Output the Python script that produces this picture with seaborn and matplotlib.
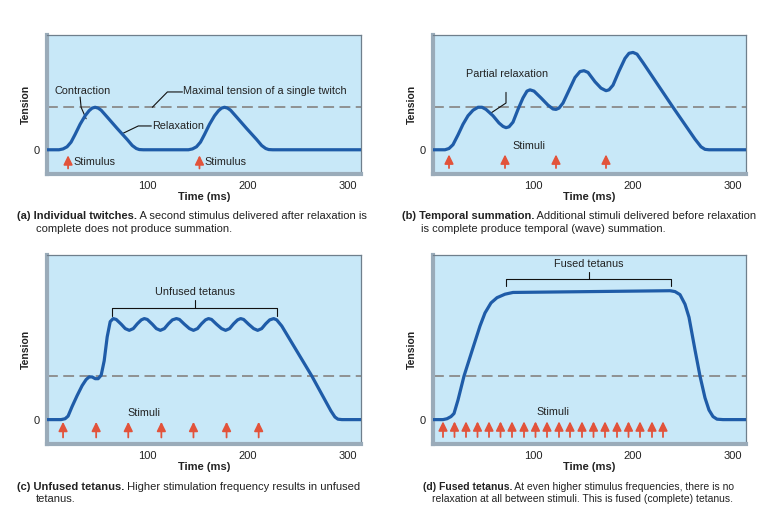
import matplotlib
matplotlib.use("Agg")
import matplotlib.pyplot as plt
import seaborn as sns

# tension curves: time (ms) and tension (1 = maximal single twitch)
a_time = [0, 12, 16, 20, 24, 28, 33, 38, 42, 45, 48, 51, 54, 60, 70, 80, 85, 89, 92, 96,
          141, 145, 149, 153, 157, 162, 167, 171, 174, 177, 180, 183, 189, 199, 209, 214, 218, 221, 225, 313]
a_tension = [0, 0, 0.02, 0.07, 0.18, 0.36, 0.6, 0.8, 0.92, 0.98, 1.0, 0.98, 0.93, 0.77, 0.5, 0.24, 0.1, 0.03, 0.005, 0,
             0, 0.02, 0.07, 0.18, 0.36, 0.6, 0.8, 0.92, 0.98, 1.0, 0.98, 0.93, 0.77, 0.5, 0.24, 0.1, 0.03, 0.005, 0, 0]

b_time = [0, 12, 16, 20, 25, 30, 35, 40, 45, 49, 53, 60, 66, 70, 73, 76, 80, 85, 90, 94, 97, 101,
          108, 115, 120, 123, 126, 130, 136, 142, 147, 151, 155, 162, 168, 173, 176, 180, 186, 192,
          196, 200, 204, 210, 240, 262, 268, 272, 276, 313]
b_tension = [0, 0, 0.03, 0.12, 0.35, 0.6, 0.8, 0.93, 1.0, 1.0, 0.95, 0.8, 0.63, 0.55, 0.52, 0.54, 0.65, 0.95, 1.22, 1.38, 1.41, 1.38,
             1.22, 1.05, 0.96, 0.95, 0.98, 1.1, 1.4, 1.7, 1.84, 1.86, 1.82, 1.6, 1.45, 1.39, 1.41, 1.52, 1.85, 2.15,
             2.27, 2.29, 2.25, 2.05, 1.0, 0.25, 0.07, 0.01, 0, 0]

c_time = [0, 14, 18, 21, 25, 30, 35, 39, 42, 45, 48, 51, 54, 57, 60, 63, 66,
          69, 74, 78, 82, 86, 90, 94, 97, 100, 105, 109, 113, 117, 121, 125, 129,
          132, 137, 142, 146, 150, 154, 158, 161, 164, 169, 174, 178, 182, 186, 190, 193,
          196, 201, 206, 210, 214, 218, 222, 226, 229, 234, 264, 283, 287, 290, 294, 313]
c_tension = [0, 0, 0.02, 0.08, 0.3, 0.55, 0.78, 0.92, 0.98, 0.98, 0.94, 0.94, 1.02, 1.35, 1.9, 2.25, 2.32,
             2.30, 2.19, 2.09, 2.05, 2.09, 2.20, 2.29, 2.32, 2.30, 2.19, 2.09, 2.05, 2.09, 2.20, 2.29, 2.32,
             2.30, 2.19, 2.09, 2.05, 2.09, 2.20, 2.29, 2.32, 2.30, 2.19, 2.09, 2.05, 2.09, 2.20, 2.29, 2.32,
             2.30, 2.19, 2.09, 2.05, 2.09, 2.20, 2.29, 2.32, 2.29, 2.15, 1.0, 0.2, 0.06, 0.01, 0, 0]

d_time = [0, 10, 14, 18, 21, 25, 31, 40, 47, 52, 58, 64, 72, 80, 237, 242, 247, 252, 256,
          262, 267, 272, 276, 280, 284, 290, 313]
d_tension = [0, 0, 0.02, 0.07, 0.14, 0.45, 1.0, 1.65, 2.15, 2.45, 2.68, 2.8, 2.88, 2.92, 2.96, 2.94, 2.87, 2.65, 2.35,
             1.6, 1.0, 0.5, 0.22, 0.07, 0.01, 0, 0]

# stimulus times (ms)
stim_a = [21, 152]
stim_b = [16, 72, 123, 173]
stim_c = [16, 49, 81, 114, 146, 179, 211]
stim_d = [10, 21.5, 33, 44.5, 56, 67.5, 79, 91, 102.5, 114, 126, 137, 149, 160.5,
          172, 184, 195.5, 207, 219, 230]

max_twitch = 1.0
time_ticks = [100, 200, 300]

captions = [
    ("(a) Individual twitches.", " A second stimulus delivered after relaxation is",
     "complete does not produce summation."),
    ("(b) Temporal summation.", " Additional stimuli delivered before relaxation",
     "is complete produce temporal (wave) summation."),
    ("(c) Unfused tetanus.", " Higher stimulation frequency results in unfused",
     "tetanus."),
    ("(d) Fused tetanus.", " At even higher stimulus frequencies, there is no",
     "relaxation at all between stimuli. This is fused (complete) tetanus."),
]

sns.set_theme(style="white")
plt.rcParams["font.family"] = ["Liberation Sans", "DejaVu Sans"]

W, H = 771, 512
fig = plt.figure(figsize=(W / 100, H / 100), dpi=100)

BG = "#c8e8f8"
LINE = "#1f5ca8"
ARROW = "#e2533b"
TXT = "#222222"


def px_axes(left, top, right, bottom):
    return fig.add_axes([left / W, 1 - bottom / H, (right - left) / W, (bottom - top) / H])


def setup(ax, ylim, stims, arrow_lo, arrow_hi):
    ax.set_facecolor(BG)
    ax.set_xlim(0, 313)
    ax.set_ylim(*ylim)
    ax.axhline(max_twitch, color="#8a8a8a", lw=1.3, ls=(0, (6, 3)), zorder=1)
    for s in stims:
        ax.annotate("", xy=(s, arrow_hi), xytext=(s, arrow_lo),
                    arrowprops=dict(arrowstyle="-|>,head_width=0.22,head_length=0.45",
                                    color=ARROW, lw=1.3, shrinkA=0, shrinkB=0))
    ax.set_xticks(time_ticks)
    ax.set_xticklabels([str(t) for t in time_ticks], fontsize=8, color=TXT)
    ax.set_yticks([0])
    ax.set_yticklabels(["0"], fontsize=8, color=TXT)
    ax.tick_params(length=0, pad=5)
    ax.set_xlabel("Time (ms)", fontsize=8, weight="bold", color=TXT, labelpad=1)
    ax.set_ylabel("Tension", fontsize=7.5, weight="bold", color=TXT, labelpad=2)
    for side in ["left", "bottom"]:
        ax.spines[side].set_color("#9aabb9")
        ax.spines[side].set_linewidth(3.0)
    for side in ["top", "right"]:
        ax.spines[side].set_color("#6f7f8c")
        ax.spines[side].set_linewidth(0.9)


def leader(ax, xs, ys):
    ax.plot(xs, ys, color="#111111", lw=0.8, zorder=3)


ax_a = px_axes(47, 35, 361, 174)
ax_b = px_axes(433, 35, 746, 174)
ax_c = px_axes(47, 255, 361, 444)
ax_d = px_axes(433, 255, 746, 444)

top_ylim = (-0.57, 2.7)
bot_ylim = (-0.56, 3.78)

for ax, t, y in [(ax_a, a_time, a_tension), (ax_b, b_time, b_tension),
                 (ax_c, c_time, c_tension), (ax_d, d_time, d_tension)]:
    sns.lineplot(x=t, y=y, ax=ax, color=LINE, linewidth=2.3, sort=False,
                 solid_capstyle="round", solid_joinstyle="round", zorder=4)

setup(ax_a, top_ylim, stim_a, -0.44, -0.13)
setup(ax_b, top_ylim, stim_b, -0.43, -0.11)
setup(ax_c, bot_ylim, stim_c, -0.41, -0.05)
setup(ax_d, bot_ylim, stim_d, -0.40, -0.04)

fs = 7.8
# (a) annotations
ax_a.text(36, 1.39, "Contraction", fontsize=fs, ha="center", va="center", color=TXT)
leader(ax_a, [33, 34, 39], [1.24, 1.0, 0.73])
ax_a.text(136, 1.38, "Maximal tension of a single twitch", fontsize=fs, ha="left", va="center", color=TXT)
leader(ax_a, [105, 120, 135], [1.0, 1.36, 1.36])
ax_a.text(105, 0.56, "Relaxation", fontsize=fs, ha="left", va="center", color=TXT)
leader(ax_a, [104, 91, 76], [0.56, 0.56, 0.39])
for s in [26, 157]:
    ax_a.text(s, -0.29, "Stimulus", fontsize=fs, ha="left", va="center", color=TXT)

# (b)
ax_b.text(74, 1.78, "Partial relaxation", fontsize=fs, ha="center", va="center", color=TXT)
leader(ax_b, [57, 73, 73], [0.85, 1.1, 1.35])
ax_b.text(96, 0.08, "Stimuli", fontsize=fs, ha="center", va="center", color=TXT)

# (c)
ax_c.text(148, 2.93, "Unfused tetanus", fontsize=fs, ha="center", va="center", color=TXT)
leader(ax_c, [65, 65, 229, 229], [2.37, 2.56, 2.56, 2.37])
leader(ax_c, [148, 148], [2.56, 2.75])
ax_c.text(97, 0.15, "Stimuli", fontsize=fs, ha="center", va="center", color=TXT)

# (d)
ax_d.text(156, 3.57, "Fused tetanus", fontsize=fs, ha="center", va="center", color=TXT)
leader(ax_d, [73, 73, 238, 238], [3.07, 3.22, 3.22, 3.07])
leader(ax_d, [156, 156], [3.22, 3.39])
ax_d.text(120, 0.17, "Stimuli", fontsize=fs, ha="center", va="center", color=TXT)

# captions with bold lead-in (the (d) caption is set tighter in the original)
cap_fs = [8.0, 8.0, 8.0, 7.5]
cap_pos = [(17, 36, 216, 229), (402, 421, 216, 229), (17, 36, 487, 499), (423, 432, 487, 499)]
fig.canvas.draw()
renderer = fig.canvas.get_renderer()
for (bold, rest, line2), (x1, x2, y1, y2), cf in zip(captions, cap_pos, cap_fs):
    t = fig.text(x1 / W, 1 - y1 / H, bold, fontsize=cf, weight="bold", va="center", color=TXT)
    bb = t.get_window_extent(renderer)
    fig.text(bb.x1 / W, 1 - y1 / H, rest, fontsize=cf, va="center", color=TXT)
    fig.text(x2 / W, 1 - y2 / H, line2, fontsize=cf, va="center", color=TXT)

fig.savefig("out.png", dpi=100)
